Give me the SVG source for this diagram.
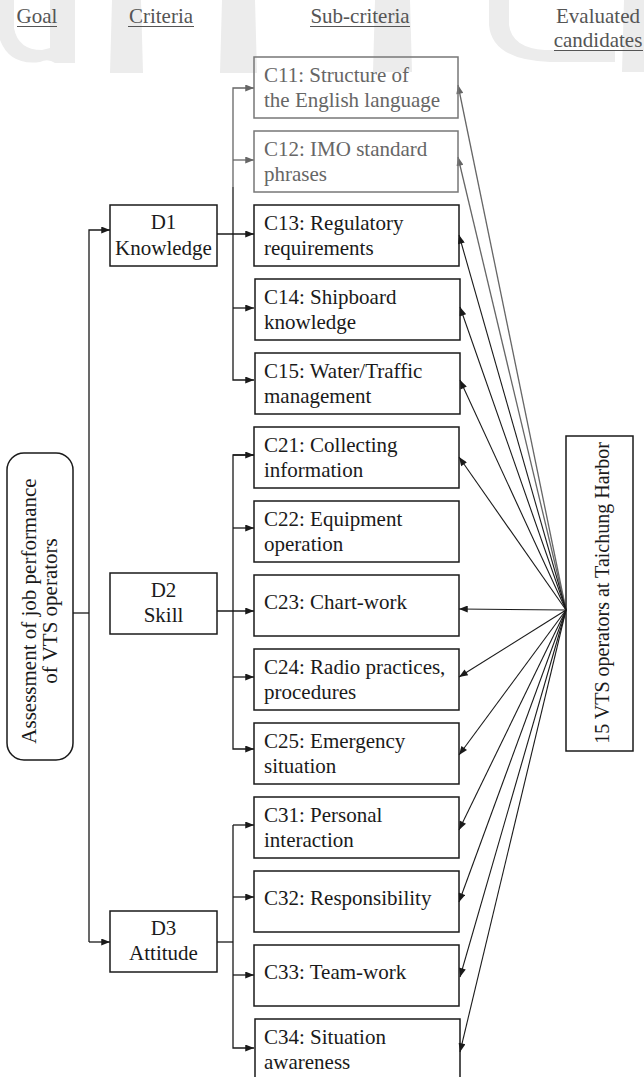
<svg xmlns="http://www.w3.org/2000/svg" width="644" height="1077" viewBox="0 0 644 1077">
<style>
.t{font-family:"Liberation Serif","Times New Roman",serif;font-size:21px;fill:#1a1a1a}
.g{fill:#666}
.h{font-family:"Liberation Serif","Times New Roman",serif;font-size:21px;fill:#555}
.box{fill:none;stroke:#1a1a1a;stroke-width:1.5}
.gbox{fill:none;stroke:#777;stroke-width:1.5}
.ln{fill:none;stroke:#1a1a1a;stroke-width:1.3}
.gln{fill:none;stroke:#666;stroke-width:1.3}
.fan{fill:none;stroke:#1a1a1a;stroke-width:1.1}
.wm{fill:#ececec}
.ul{stroke:#555;stroke-width:1}
</style>
<defs>
<marker id="ah" viewBox="0 0 10 8" refX="10" refY="4" markerWidth="9" markerHeight="7" markerUnits="userSpaceOnUse" orient="auto"><path d="M0,0 L10,4 L0,8 z" fill="#1a1a1a"/></marker>
<marker id="ahg" viewBox="0 0 10 8" refX="10" refY="4" markerWidth="9" markerHeight="7" markerUnits="userSpaceOnUse" orient="auto"><path d="M0,0 L10,4 L0,8 z" fill="#666"/></marker>
<marker id="fh" viewBox="0 0 10 8" refX="10" refY="4" markerWidth="11" markerHeight="7" markerUnits="userSpaceOnUse" orient="auto"><path d="M0,0 L10,4 L0,8 z" fill="#1a1a1a"/></marker>
<marker id="fhg" viewBox="0 0 10 8" refX="10" refY="4" markerWidth="11" markerHeight="7" markerUnits="userSpaceOnUse" orient="auto"><path d="M0,0 L10,4 L0,8 z" fill="#666"/></marker>
</defs>
<rect width="644" height="1077" fill="#fff"/>
<g id="watermark">
<path class="wm" d="M0,0 L14,0 L14,28 Q18,50 42,50 L50,48 L50,0 L75,0 L75,63 L55,63 Q48,58 40,62 Q10,66 0,40 z"/>
<path class="wm" d="M112,0 L141,0 L143,73 L110,73 z"/>
<path class="wm" d="M222,0 L255,0 L257,73 L220,73 z"/>
<path class="wm" d="M375,0 L410,0 L412,72 L373,72 z"/>
<path class="wm" d="M489,0 L509,0 L509,25 Q512,48 545,50 L615,50 L615,62 L550,62 Q492,60 489,25 z"/>
<path class="wm" d="M624,0 L644,0 L644,72 L622,72 z"/>
</g>
<g id="headers">
<text class="h" x="37" y="23" text-anchor="middle">Goal</text>
<line class="ul" x1="17" y1="26.5" x2="57" y2="26.5"/>
<text class="h" x="161" y="23" text-anchor="middle">Criteria</text>
<line class="ul" x1="128" y1="26.5" x2="194" y2="26.5"/>
<text class="h" x="360" y="23" text-anchor="middle">Sub-criteria</text>
<line class="ul" x1="310" y1="26.5" x2="410" y2="26.5"/>
<text class="h" x="598" y="23" text-anchor="middle">Evaluated</text>
<text class="h" x="598" y="47" text-anchor="middle">candidates</text>
<line class="ul" x1="554" y1="50.5" x2="643" y2="50.5"/>
</g>
<g id="connectors">
<polyline class="ln" points="73,613 89,613"/>
<polyline class="ln" points="89,942 89,230 110,230" marker-end="url(#ah)"/>
<polyline class="ln" points="89,942 110,942" marker-end="url(#ah)"/>
<polyline class="ln" points="217,234 254,234" marker-end="url(#ah)"/>
<polyline class="gln" points="233,187 233,88 254,88" marker-end="url(#ahg)"/>
<polyline class="gln" points="233,160 254,160" marker-end="url(#ahg)"/>
<polyline class="ln" points="233,187 233,380 254,380" marker-end="url(#ah)"/>
<polyline class="ln" points="233,308 254,308" marker-end="url(#ah)"/>
<polyline class="ln" points="217,611 254,611" marker-end="url(#ah)"/>
<polyline class="ln" points="254,455 233,455 233,749 254,749" marker-end="url(#ah)"/>
<polyline class="ln" points="233,455 254,455" marker-end="url(#ah)"/>
<polyline class="ln" points="233,528 254,528" marker-end="url(#ah)"/>
<polyline class="ln" points="233,677 254,677" marker-end="url(#ah)"/>
<polyline class="ln" points="217,942 233,942"/>
<polyline class="ln" points="233,825 233,1048 254,1048" marker-end="url(#ah)"/>
<polyline class="ln" points="233,825 254,825" marker-end="url(#ah)"/>
<polyline class="ln" points="233,897 254,897" marker-end="url(#ah)"/>
<polyline class="ln" points="233,975 254,975" marker-end="url(#ah)"/>
<line class="gln" x1="566" y1="610" x2="458" y2="85" marker-end="url(#fhg)" stroke-width="1.1"/>
<line class="gln" x1="566" y1="610" x2="458" y2="157" marker-end="url(#fhg)" stroke-width="1.1"/>
<line class="fan" x1="566" y1="610" x2="459" y2="235" marker-end="url(#fh)"/>
<line class="fan" x1="566" y1="610" x2="460" y2="307" marker-end="url(#fh)"/>
<line class="fan" x1="566" y1="610" x2="460" y2="380" marker-end="url(#fh)"/>
<line class="fan" x1="566" y1="610" x2="459" y2="457" marker-end="url(#fh)"/>
<line class="fan" x1="566" y1="610" x2="459" y2="609" marker-end="url(#fh)"/>
<line class="fan" x1="566" y1="610" x2="459" y2="677" marker-end="url(#fh)"/>
<line class="fan" x1="566" y1="610" x2="459" y2="755" marker-end="url(#fh)"/>
<line class="fan" x1="566" y1="610" x2="459" y2="830" marker-end="url(#fh)"/>
<line class="fan" x1="566" y1="610" x2="459" y2="902" marker-end="url(#fh)"/>
<line class="fan" x1="566" y1="610" x2="460" y2="977" marker-end="url(#fh)"/>
<line class="fan" x1="566" y1="610" x2="460" y2="1052" marker-end="url(#fh)"/>
</g>
<g id="goal">
<rect class="box" x="7" y="453" width="66" height="307" rx="17" ry="17"/>
<text class="t" transform="translate(36,611) rotate(-90)" text-anchor="middle">Assessment of job performance</text>
<text class="t" transform="translate(57,611) rotate(-90)" text-anchor="middle">of VTS operators</text>
</g>
<g id="D1"><rect class="box" x="110" y="205" width="107" height="61"/><text class="t" x="163.5" y="229" text-anchor="middle">D1</text><text class="t" x="163.5" y="255" text-anchor="middle">Knowledge</text></g>
<g id="D2"><rect class="box" x="110" y="573" width="107" height="61"/><text class="t" x="163.5" y="597" text-anchor="middle">D2</text><text class="t" x="163.5" y="622" text-anchor="middle">Skill</text></g>
<g id="D3"><rect class="box" x="110" y="911" width="107" height="61"/><text class="t" x="163.5" y="935" text-anchor="middle">D3</text><text class="t" x="163.5" y="960" text-anchor="middle">Attitude</text></g>
<g id="C11"><rect class="gbox" x="254" y="57" width="204" height="61"/><text class="t g" x="264" y="82">C11: Structure of</text><text class="t g" x="264" y="107">the English language</text></g>
<g id="C12"><rect class="gbox" x="254" y="131" width="204" height="61"/><text class="t g" x="264" y="156">C12: IMO standard</text><text class="t g" x="264" y="181">phrases</text></g>
<g id="C13"><rect class="box" x="254" y="205" width="205" height="61"/><text class="t" x="264" y="230">C13: Regulatory</text><text class="t" x="264" y="255">requirements</text></g>
<g id="C14"><rect class="box" x="255" y="279" width="205" height="61"/><text class="t" x="264" y="304">C14: Shipboard</text><text class="t" x="264" y="329">knowledge</text></g>
<g id="C15"><rect class="box" x="255" y="353" width="205" height="61"/><text class="t" x="264" y="378">C15: Water/Traffic</text><text class="t" x="264" y="403">management</text></g>
<g id="C21"><rect class="box" x="254" y="427" width="205" height="61"/><text class="t" x="264" y="452">C21: Collecting</text><text class="t" x="264" y="477">information</text></g>
<g id="C22"><rect class="box" x="254" y="501" width="205" height="61"/><text class="t" x="264" y="526">C22: Equipment</text><text class="t" x="264" y="551">operation</text></g>
<g id="C23"><rect class="box" x="254" y="575" width="205" height="61"/><text class="t" x="264" y="609">C23: Chart-work</text></g>
<g id="C24"><rect class="box" x="254" y="649" width="205" height="61"/><text class="t" x="264" y="674">C24: Radio practices,</text><text class="t" x="264" y="699">procedures</text></g>
<g id="C25"><rect class="box" x="254" y="723" width="205" height="61"/><text class="t" x="264" y="748">C25: Emergency</text><text class="t" x="264" y="773">situation</text></g>
<g id="C31"><rect class="box" x="254" y="797" width="205" height="61"/><text class="t" x="264" y="822">C31: Personal</text><text class="t" x="264" y="847">interaction</text></g>
<g id="C32"><rect class="box" x="254" y="871" width="205" height="61"/><text class="t" x="264" y="905">C32: Responsibility</text></g>
<g id="C33"><rect class="box" x="254" y="945" width="205" height="61"/><text class="t" x="264" y="979">C33: Team-work</text></g>
<g id="C34"><rect class="box" x="255" y="1019" width="205" height="61"/><text class="t" x="264" y="1044">C34: Situation</text><text class="t" x="264" y="1069">awareness</text></g>
<g id="candidates"><rect class="box" x="566" y="436" width="67" height="315"/><text class="t" transform="translate(609,593) rotate(-90)" text-anchor="middle" style="font-size:20px">15 VTS operators at Taichung Harbor</text></g>
</svg>
